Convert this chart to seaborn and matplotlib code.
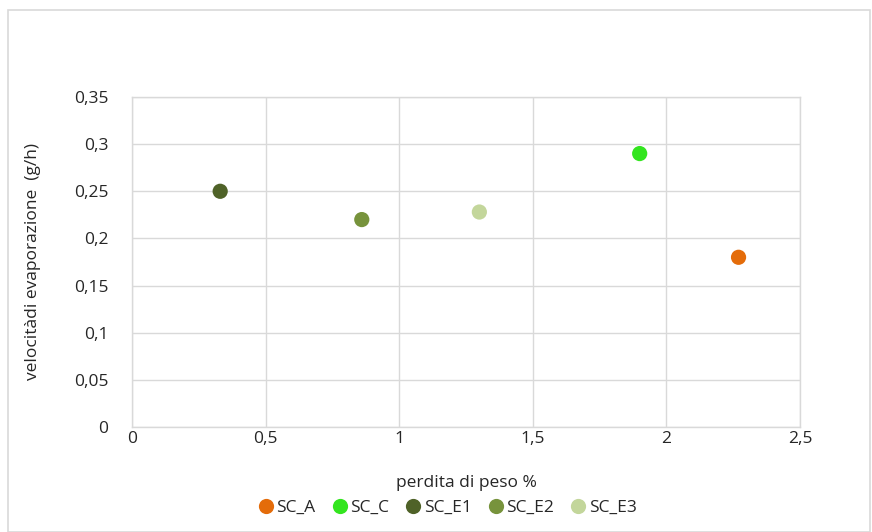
import matplotlib
matplotlib.use("Agg")
import matplotlib.pyplot as plt
import seaborn as sns
import pandas as pd
from matplotlib.ticker import FuncFormatter, MultipleLocator
from matplotlib.patches import Rectangle

samples = ["SC_A", "SC_C", "SC_E1", "SC_E2", "SC_E3"]
perdita = [2.27, 1.90, 0.33, 0.86, 1.30]
velocita = [0.18, 0.29, 0.25, 0.22, 0.228]
colors = ["#E46C0A", "#33E51F", "#4F6228", "#77933C", "#C3D69B"]

df = pd.DataFrame({"sample": samples, "x": perdita, "y": velocita})

sns.set_style("white")
plt.rcParams["font.family"] = ["Open Sans", "DejaVu Sans"]

txt = "#262626"
fs = 12.5

fig = plt.figure(figsize=(8.72, 5.32), dpi=100)
ax = fig.add_axes([132/872, 1-427/532, (800-132)/872, (427-97)/532])

sns.scatterplot(data=df, x="x", y="y", hue="sample", hue_order=samples,
                palette=dict(zip(samples, colors)), s=120, edgecolor="none",
                ax=ax, legend=True, zorder=3)

ax.set_xlim(0, 2.5)
ax.set_ylim(0, 0.35)
ax.xaxis.set_major_locator(MultipleLocator(0.5))
ax.yaxis.set_major_locator(MultipleLocator(0.05))

def comma(v, pos):
    s = f"{v:.2f}".rstrip("0").rstrip(".")
    return s.replace(".", ",")

ax.xaxis.set_major_formatter(FuncFormatter(comma))
ax.yaxis.set_major_formatter(FuncFormatter(comma))
ax.grid(True, color="#D9D9D9", linewidth=1)
ax.set_axisbelow(True)
for sp in ax.spines.values():
    sp.set_color("#D9D9D9")
    sp.set_linewidth(1)
ax.tick_params(axis="both", length=0, labelsize=fs, colors=txt)
ax.tick_params(axis="x", pad=3)
ax.tick_params(axis="y", pad=17)

ax.set_xlabel("perdita di peso %", fontsize=fs, color=txt, labelpad=20)
ax.set_ylabel("velocitàdi evaporazione  (g/h)", fontsize=fs, color=txt, labelpad=24)

handles, labels = ax.get_legend_handles_labels()
ax.legend_.remove()
fig.legend(handles, labels, loc="center", bbox_to_anchor=(446/872, 1-508/532),
           ncol=5, frameon=False, fontsize=fs, handletextpad=0.0,
           handlelength=1.2, columnspacing=0.8, markerscale=1.0, labelcolor=txt)

fig.patches.append(Rectangle((8/872, 0), 1 - 8/872 - 2/872, 1 - 10/532,
                             transform=fig.transFigure, fill=False,
                             edgecolor="#D9D9D9", linewidth=1.2))

fig.savefig("out.png", dpi=100)
